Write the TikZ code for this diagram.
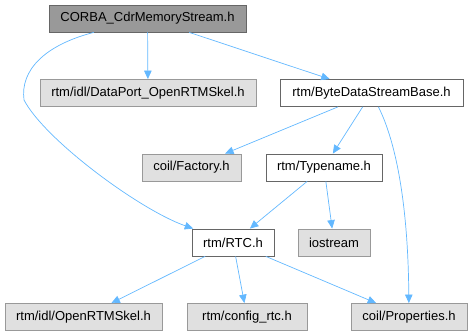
\documentclass[tikz,border=0pt]{standalone}
\usepackage{fontspec}
\setmainfont{Liberation Sans}
\usepackage{tikz}
\usetikzlibrary{arrows.meta}
\usepackage{xcolor}
\definecolor{edgeblue}{HTML}{63B8FF}
\definecolor{boxdark}{HTML}{999999}
\definecolor{boxlight}{HTML}{E0E0E0}
\definecolor{rimdark}{HTML}{666666}
\definecolor{rimlight}{HTML}{999999}

\begin{document}
\begin{tikzpicture}[x=1pt, y=-1pt,
    file/.style={draw, line width=0.8pt, minimum height=27pt, inner sep=0pt,
        font=\fontsize{13}{15}\selectfont},
    topfile/.style={file, fill=boxdark, draw=rimdark},
    localfile/.style={file, fill=white, draw=rimdark},
    extfile/.style={file, fill=boxlight, draw=rimlight},
    edge/.style={draw=edgeblue, line width=0.7pt,
        -{Triangle[length=8.5pt, width=7.5pt, fill=edgeblue]}}]
    \useasboundingbox (0,0) rectangle (472,336);

    % Top level file
    \node[topfile, minimum width=197pt] (cdr) at (147.5,18.5) {CORBA\_CdrMemoryStream.h};

    % Second row
    \node[extfile, minimum width=216pt] (dps) at (148,93) {rtm/idl/DataPort\_OpenRTMSkel.h};
    \node[localfile, minimum width=183pt] (bds) at (371.5,93) {rtm/ByteDataStreamBase.h};

    % Third row
    \node[extfile, minimum width=99pt] (fac) at (191.5,167.5) {coil/Factory.h};
    \node[localfile, minimum width=116pt] (tyn) at (324,167.5) {rtm/Typename.h};

    % Fourth row
    \node[localfile, minimum width=82pt] (rtc) at (233,242.5) {rtm/RTC.h};
    \node[extfile, minimum width=72pt] (ios) at (334,242.5) {iostream};

    % Bottom row
    \node[extfile, minimum width=157pt] (ors) at (83.5,317) {rtm/idl/OpenRTMSkel.h};
    \node[extfile, minimum width=120pt] (cfg) at (247,317) {rtm/config\_rtc.h};
    \node[extfile, minimum width=116pt] (prp) at (409,317) {coil/Properties.h};

    % Include edges
    \draw[edge] (cdr) -- (dps);
    \draw[edge] (cdr) -- (bds);
    \draw[edge] (cdr) .. controls (45,45) and (20,70) .. (24,100)
        .. controls (45,140) and (140,210) .. (rtc);
    \draw[edge] (bds) -- (fac);
    \draw[edge] (bds) -- (tyn);
    \draw[edge] (bds) .. controls (395,140) and (408,200) .. (prp);
    \draw[edge] (tyn) -- (rtc);
    \draw[edge] (tyn) -- (ios);
    \draw[edge] (rtc) -- (ors);
    \draw[edge] (rtc) -- (cfg);
    \draw[edge] (rtc) -- (prp);
\end{tikzpicture}
\end{document}
